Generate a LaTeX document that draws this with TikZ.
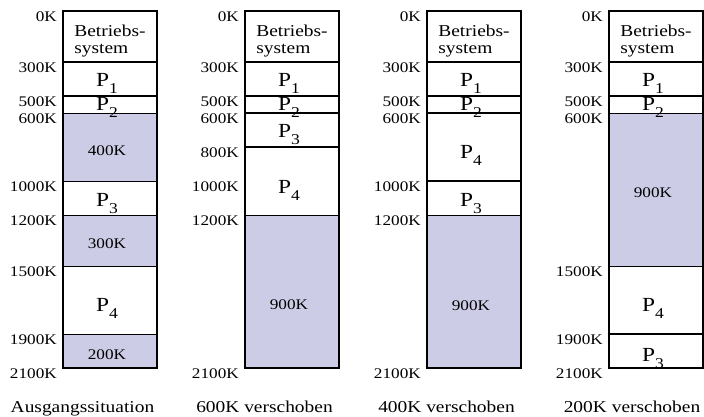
\documentclass[tikz,border=0pt]{standalone}
\usepackage{fontspec}
\setmainfont{Liberation Serif}[FakeStretch=1.17]

% memory address (in K) -> vertical position
\newcommand\mkY[1]{(11+0.17*#1)}

\definecolor{freemem}{RGB}{204,204,230}

\tikzset{
  addr/.style={anchor=north east, inner sep=0pt, font=\fontsize{14.7}{15}\selectfont},
  klabel/.style={anchor=center, inner sep=0pt, font=\fontsize{14.7}{15}\selectfont},
  pname/.style={anchor=base, inner sep=0pt, font=\fontsize{20}{20}\selectfont},
  osname/.style={anchor=center, inner sep=0pt, align=left, font=\fontsize{16.6}{17.3}\selectfont},
  caption/.style={anchor=base, inner sep=0pt, font=\fontsize{16.6}{17}\selectfont},
  procsep/.style={line width=1.8pt},
  freesep/.style={line width=0.9pt},
  border/.style={line width=1.2pt},
}

% name, from, to, text of a free block
\newcommand\freeblk[4]{%
  \fill[freemem] (63,{\mkY{#2}}) rectangle (157,{\mkY{#3}});
  \node[klabel] (#1) at (107,{(\mkY{#2}+\mkY{#3})/2+3.5}) {#4};}
% free block with explicit label position
\newcommand\freeblkat[5]{%
  \fill[freemem] (63,{\mkY{#2}}) rectangle (157,{\mkY{#3}});
  \node[klabel] (#1) at (107,#5) {#4};}
% name, from, to, process number, baseline offset from block middle
\newcommand\proc[5]{%
  \node[pname] (#1) at (107,{(\mkY{#2}+\mkY{#3})/2+#5}) {P\raisebox{-7pt}{\fontsize{15}{15}\selectfont #4}};}
% separating line at an address
\newcommand\sep[2]{\draw[#2] (63,{\mkY{#1}}) -- (157,{\mkY{#1}});}
% address label
\newcommand\addrlbl[2]{\node[addr] (#1) at (57,{\mkY{#2}+1}) {#2K};}
% operating system block and frame
\newcommand\osblk[1]{\node[osname] (#1) at (110,40.8) {Betriebs-\\system};}
\newcommand\memframe{\draw[border] (63,{\mkY{0}}) rectangle (157,{\mkY{2100}});}

\begin{document}
\begin{tikzpicture}[x=1pt,y=-1pt]
\useasboundingbox (0,0) rectangle (704,417);

% ---- initial situation
\begin{scope}
  \freeblk{af1}{600}{1000}{400K}
  \freeblk{af2}{1200}{1500}{300K}
  \freeblk{af3}{1900}{2100}{200K}
  \sep{300}{procsep}\sep{500}{procsep}
  \sep{600}{freesep}\sep{1000}{freesep}\sep{1200}{freesep}
  \sep{1500}{freesep}\sep{1900}{freesep}
  \memframe
  \osblk{aos}
  \proc{ap1}{300}{500}{1}{8}
  \proc{ap2}{500}{600}{2}{6}
  \proc{ap3}{1000}{1200}{3}{8.5}
  \proc{ap4}{1500}{1900}{4}{12}
  \foreach \k in {0,300,500,600,1000,1200,1500,1900,2100}{\addrlbl{aa\k}{\k}}
  \node[caption] (acap) at (82.5,412.7) {Ausgangssituation};
\end{scope}

% ---- 600K moved
\begin{scope}[xshift=182pt]
  \freeblkat{bf1}{1200}{2100}{900K}{305}
  \sep{300}{procsep}\sep{500}{procsep}\sep{600}{procsep}\sep{800}{procsep}
  \sep{1200}{freesep}
  \memframe
  \osblk{bos}
  \proc{bp1}{300}{500}{1}{8}
  \proc{bp2}{500}{600}{2}{6}
  \proc{bp3}{600}{800}{3}{8}
  \proc{bp4}{800}{1200}{4}{13}
  \foreach \k in {0,300,500,600,800,1000,1200,2100}{\addrlbl{ba\k}{\k}}
  \node[caption] (bcap) at (82.5,412.7) {600K verschoben};
\end{scope}

% ---- 400K moved
\begin{scope}[xshift=364pt]
  \freeblkat{cf1}{1200}{2100}{900K}{306}
  \sep{300}{procsep}\sep{500}{procsep}\sep{600}{procsep}\sep{1000}{procsep}
  \sep{1200}{freesep}
  \memframe
  \osblk{cos}
  \proc{cp1}{300}{500}{1}{8}
  \proc{cp2}{500}{600}{2}{6}
  \proc{cp4}{600}{1000}{4}{11.5}
  \proc{cp3}{1000}{1200}{3}{8.5}
  \foreach \k in {0,300,500,600,1000,1200,2100}{\addrlbl{ca\k}{\k}}
  \node[caption] (ccap) at (82.5,412.7) {400K verschoben};
\end{scope}

% ---- 200K moved
\begin{scope}[xshift=546pt]
  \freeblk{df1}{600}{1500}{900K}
  \sep{300}{procsep}\sep{500}{procsep}
  \sep{600}{freesep}\sep{1500}{freesep}
  \sep{1900}{procsep}
  \memframe
  \osblk{dos}
  \proc{dp1}{300}{500}{1}{8}
  \proc{dp2}{500}{600}{2}{6}
  \proc{dp4}{1500}{1900}{4}{12}
  \proc{dp3}{1900}{2100}{3}{11}
  \foreach \k in {0,300,500,600,1500,1900,2100}{\addrlbl{da\k}{\k}}
  \node[caption] (dcap) at (86,412.7) {200K verschoben};
\end{scope}
\end{tikzpicture}
\end{document}
